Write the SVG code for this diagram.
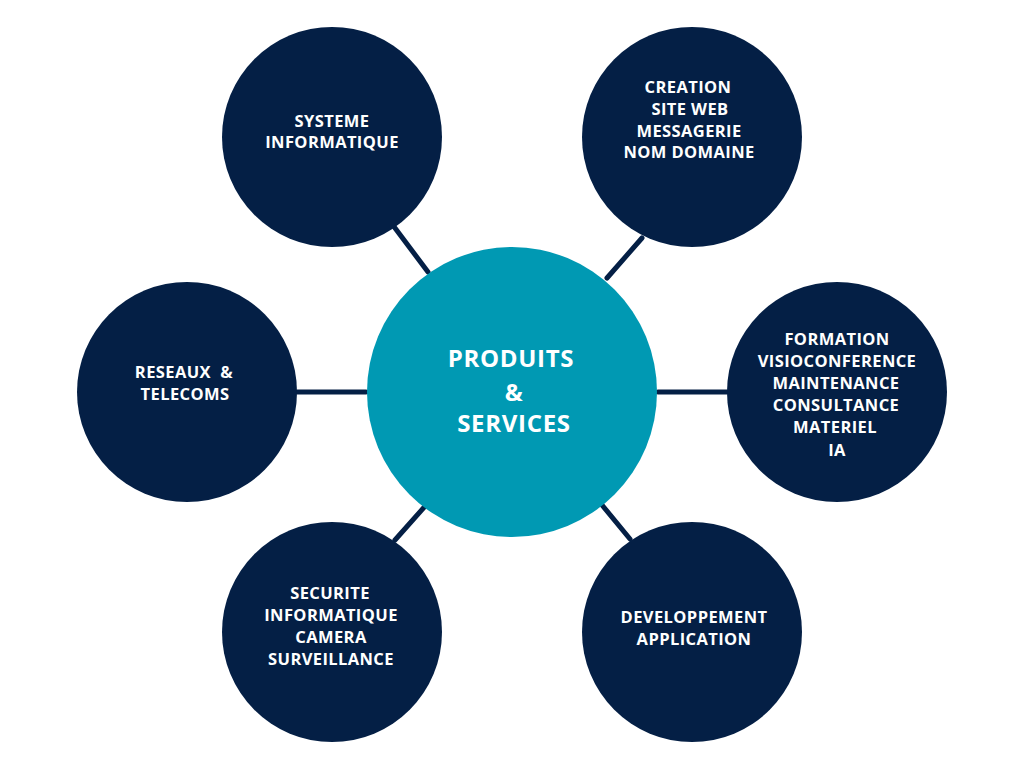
<svg xmlns="http://www.w3.org/2000/svg" width="1024" height="768" viewBox="0 0 1024 768">
<style>
.bg{fill:#ffffff}
.node{fill:#041f45}
.hub{fill:#0099b3}
.conn line{stroke:#041f45;stroke-width:5;stroke-linecap:round}
.lbl{font-family:"Open Sans","Liberation Sans",sans-serif;font-weight:700;font-size:16.5px;letter-spacing:0.4px;fill:#ffffff;text-anchor:middle;white-space:pre}
.hubl{font-family:"Open Sans","Liberation Sans",sans-serif;font-weight:700;font-size:24px;letter-spacing:0.7px;fill:#ffffff;text-anchor:middle}
</style>
<rect class="bg" x="0" y="0" width="1024" height="768"/>
<g id="connectors" class="conn">
<line x1="395" y1="228" x2="428" y2="272"/>
<line x1="642" y1="238" x2="607" y2="278"/>
<line x1="297" y1="392" x2="366" y2="392"/>
<line x1="658" y1="392" x2="727" y2="392"/>
<line x1="427" y1="504" x2="395" y2="540"/>
<line x1="602" y1="505" x2="630" y2="539"/>
</g>
<g id="hub">
<circle class="hub" cx="512" cy="392" r="145"/>
<text class="hubl" x="511" y="367">PRODUITS</text>
<text class="hubl" x="514" y="401">&amp;</text>
<text class="hubl" x="514" y="432">SERVICES</text>
</g>
<g id="systeme">
<circle class="node" cx="332" cy="137" r="110"/>
<text class="lbl" x="332" y="127">SYSTEME</text>
<text class="lbl" x="332" y="148">INFORMATIQUE</text>
</g>
<g id="creation">
<circle class="node" cx="692" cy="137" r="110"/>
<text class="lbl" x="688" y="93">CREATION</text>
<text class="lbl" x="690" y="115">SITE WEB</text>
<text class="lbl" x="689" y="137">MESSAGERIE</text>
<text class="lbl" x="689" y="158">NOM DOMAINE</text>
</g>
<g id="reseaux">
<circle class="node" cx="187" cy="392" r="110"/>
<text class="lbl" x="184" y="378">RESEAUX  &amp;</text>
<text class="lbl" x="185" y="400">TELECOMS</text>
</g>
<g id="formation">
<circle class="node" cx="837" cy="392" r="110"/>
<text class="lbl" x="837" y="345">FORMATION</text>
<text class="lbl" x="837" y="367">VISIOCONFERENCE</text>
<text class="lbl" x="836" y="389">MAINTENANCE</text>
<text class="lbl" x="836" y="411">CONSULTANCE</text>
<text class="lbl" x="835" y="433">MATERIEL</text>
<text class="lbl" x="837" y="456">IA</text>
</g>
<g id="securite">
<circle class="node" cx="332" cy="632" r="110"/>
<text class="lbl" x="330" y="599">SECURITE</text>
<text class="lbl" x="331" y="621">INFORMATIQUE</text>
<text class="lbl" x="331" y="643">CAMERA</text>
<text class="lbl" x="331" y="665">SURVEILLANCE</text>
</g>
<g id="developpement">
<circle class="node" cx="692" cy="632" r="110"/>
<text class="lbl" x="694" y="623">DEVELOPPEMENT</text>
<text class="lbl" x="694" y="645">APPLICATION</text>
</g>
</svg>
